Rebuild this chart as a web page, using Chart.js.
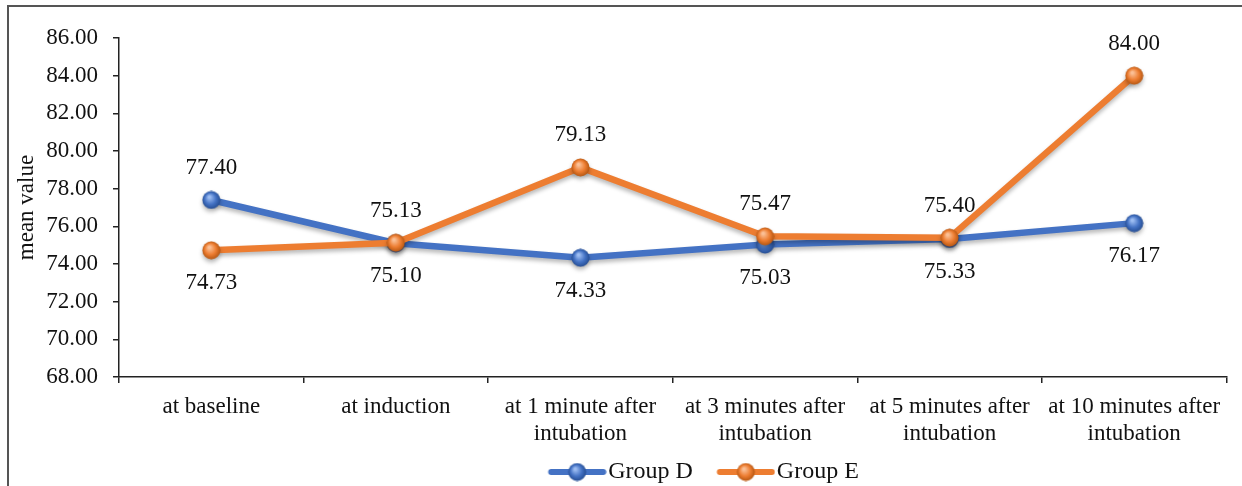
<!DOCTYPE html>
<html>
<head>
<meta charset="utf-8">
<script src="https://cdn.jsdelivr.net/npm/chart.js@4.4.0/dist/chart.umd.min.js"></script>
<style>
  html, body { margin: 0; padding: 0; background: #fff; }
  #wrap { width: 1242px; height: 486px; }
</style>
</head>
<body>
<div id="wrap"><canvas id="myChart" width="1242" height="486"></canvas></div>
<script>
// ---------------- data ----------------
var categories = [
  "at baseline",
  "at induction",
  ["at 1 minute after", "intubation"],
  ["at 3 minutes after", "intubation"],
  ["at 5 minutes after", "intubation"],
  ["at 10 minutes after", "intubation"]
];
var groupD = [77.40, 75.10, 74.33, 75.03, 75.33, 76.17];
var groupE = [74.73, 75.13, 79.13, 75.47, 75.40, 84.00];
var yMin = 68, yMax = 86, yStep = 2;
var seriesNames = ["Group D", "Group E"];

var FONT = "'Liberation Serif', 'Times New Roman', serif";
var TXT = "#111";
var FS = 23;

// little 3d ball like excel markers
function sphere(mid, light, dark) {
  var c = document.createElement('canvas');
  c.width = 19; c.height = 19;
  var g = c.getContext('2d');
  var grad = g.createRadialGradient(7.5, 6.5, 1, 9.5, 9.5, 9.5);
  grad.addColorStop(0, light);
  grad.addColorStop(0.55, mid);
  grad.addColorStop(1, dark);
  g.fillStyle = grad;
  g.beginPath();
  g.arc(9.5, 9.5, 9, 0, Math.PI * 2);
  g.fill();
  return c;
}

// legend symbol = line + ball
function legendMark(color, ball) {
  var c = document.createElement('canvas');
  c.width = 90; c.height = 20;
  var g = c.getContext('2d');
  g.strokeStyle = color;
  g.lineWidth = 6;
  g.lineCap = 'round';
  g.beginPath();
  g.moveTo(34.5, 10);
  g.lineTo(86.5, 10);
  g.stroke();
  g.drawImage(ball, 60.5 - 9.5, 0.5);
  return c;
}

var ballD = sphere('#4472C4', '#9dbdf2', '#234a8e');
var ballE = sphere('#ED7D31', '#fbc096', '#b0530f');
var legD = legendMark('#4472C4', ballD);
var legE = legendMark('#ED7D31', ballE);

//---------------------------- plugins ------------------------------
var framePlugin = {
  id: 'frame',
  beforeDraw: function (chart) {
    var ctx = chart.ctx;
    ctx.save();
    ctx.fillStyle = '#fff';
    ctx.fillRect(0, 0, chart.width, chart.height);
    ctx.strokeStyle = '#555';
    ctx.lineWidth = 2;
    ctx.strokeRect(8, 6, chart.width + 20, chart.height + 20);
    ctx.restore();
  },
  afterLayout: function (chart) {
    // excel put the legend a bit right of centre
    if (chart.legend) {
      chart.legend.left += 77;
      chart.legend.right += 77;
    }
  }
};

var valuePlugin = {
  id: 'values',
  beforeDatasetsDraw: function (chart) {
    var ctx = chart.ctx;
    ctx.save();
    ctx.shadowColor = 'rgba(0,0,0,0.28)';
    ctx.shadowBlur = 4;
    ctx.shadowOffsetY = 3;
  },
  afterDatasetsDraw: function (chart) {
    var ctx = chart.ctx;
    ctx.restore();
    ctx.save();
    ctx.font = FS + "px " + FONT;
    ctx.fillStyle = TXT;
    ctx.textAlign = 'center';
    ctx.textBaseline = 'middle';
    chart.data.datasets.forEach(function (ds, di) {
      var meta = chart.getDatasetMeta(di);
      meta.data.forEach(function (pt, i) {
        var v = ds.data[i];
        var top = true;
        chart.data.datasets.forEach(function (other) {
          if (other.data[i] > v) top = false;
        });
        var y = top ? pt.y - 32 : pt.y + 33;
        ctx.fillText(v.toFixed(2), pt.x, y);
      });
    });
    ctx.restore();
  }
};

var ctx = document.getElementById('myChart').getContext('2d');
var myChart = new Chart(ctx, {
  type: 'line',
  data: {
    labels: categories,
    datasets: [{
      label: seriesNames[0],
      data: groupD,
      borderColor: '#4472C4',
      backgroundColor: '#4472C4',
      borderWidth: 6.5,
      borderJoinStyle: 'round',
      borderCapStyle: 'round',
      pointStyle: ballD,
      pointRadius: 9,
      tension: 0,
      order: 1
    }, {
      label: seriesNames[1],
      data: groupE,
      borderColor: '#ED7D31',
      backgroundColor: '#ED7D31',
      borderWidth: 6.5,
      borderJoinStyle: 'round',
      borderCapStyle: 'round',
      pointStyle: ballE,
      pointRadius: 9,
      tension: 0,
      order: 0
    }]
  },
  options: {
    responsive: false,
    animation: false,
    devicePixelRatio: 1,
    layout: { padding: { left: 0, top: 38, right: 10, bottom: -8 } },
    scales: {
      x: {
        offset: true,
        grid: {
          offset: true,
          drawOnChartArea: false,
          drawTicks: true,
          tickLength: 6,
          color: '#222',
          lineWidth: 1.5
        },
        border: { display: true, color: '#222', width: 1.5 },
        ticks: {
          font: { family: FONT, size: FS, lineHeight: 1.15 },
          color: TXT,
          padding: 11,
          maxRotation: 0,
          autoSkip: false
        },
        afterFit: function (scale) { scale.height = 80; }
      },
      y: {
        min: yMin,
        max: yMax,
        grid: {
          drawOnChartArea: false,
          drawTicks: true,
          tickLength: 6,
          color: '#222',
          lineWidth: 1.5
        },
        border: { display: true, color: '#222', width: 1.5 },
        ticks: {
          stepSize: yStep,
          font: { family: FONT, size: FS },
          color: TXT,
          padding: 15,
          callback: function (v) { return Number(v).toFixed(2); }
        },
        title: {
          display: true,
          text: 'mean value',
          font: { family: FONT, size: FS },
          color: TXT,
          padding: { top: 13, bottom: 0 }
        },
        afterFit: function (scale) { scale.width = 119; }
      }
    },
    plugins: {
      legend: {
        display: true,
        position: 'bottom',
        labels: {
          usePointStyle: true,
          pointStyleWidth: 69,
          padding: 3,
          color: TXT,
          font: { family: FONT, size: 24 },
          sort: function (a, b) { return a.datasetIndex - b.datasetIndex; },
          generateLabels: function (chart) {
            var items = Chart.defaults.plugins.legend.labels.generateLabels(chart);
            items.forEach(function (it) {
              it.pointStyle = it.datasetIndex === 0 ? legD : legE;
            });
            return items;
          }
        }
      },
      title: { display: false },
      tooltip: { enabled: false }
    }
  },
  plugins: [framePlugin, valuePlugin]
});
</script>
</body>
</html>
